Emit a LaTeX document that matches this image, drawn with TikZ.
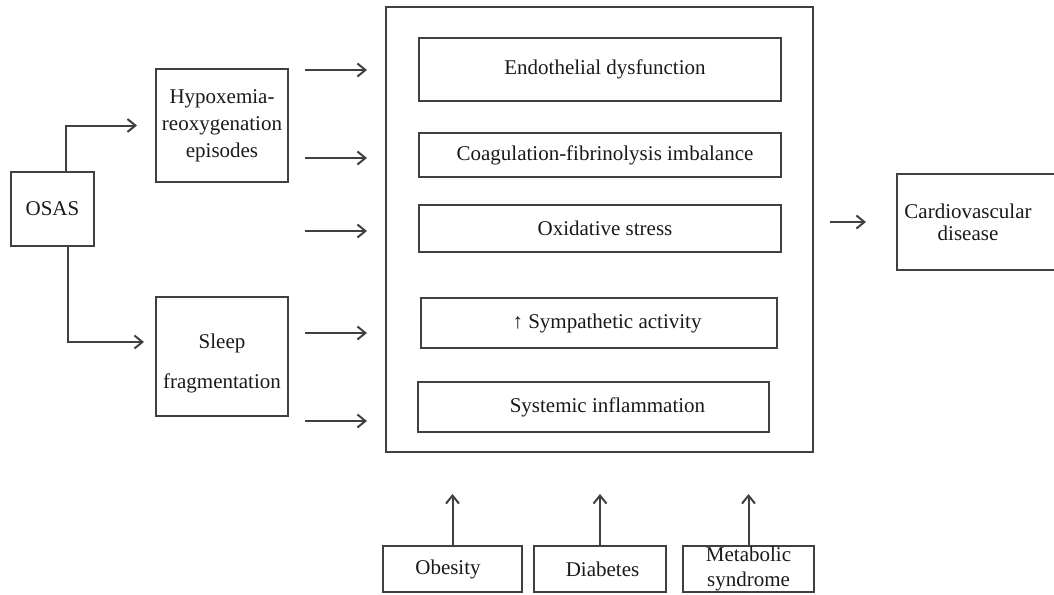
\documentclass[tikz,border=0pt]{standalone}
\usepackage{fontspec}
\setmainfont{Liberation Serif}
\usetikzlibrary{arrows.meta,calc}
\begin{document}
\begin{tikzpicture}[x=1pt,y=-1pt,
  box/.style={draw=black!75, line width=2pt, rectangle, inner sep=0pt, align=center,
    font=\fontsize{21}{27}\selectfont, text=black!90},
  txt/.style={inner sep=0pt, align=center, font=\fontsize{21}{22}\selectfont, text=black!90},
  arr/.style={draw=black!75, line width=2pt, -{Straight Barb[length=8pt,width=13pt]}}
]
\useasboundingbox (0,0) rectangle (1054,594);
\clip (0,0) rectangle (1054,594);

% left column
\node[box, minimum width=83, minimum height=74] (osas) at (52.5,209) {OSAS};
\node[box, minimum width=132, minimum height=113] (hyp) at (222,125.5) {Hypoxemia-\\reoxygenation\\episodes};
\node[box, minimum width=132, minimum height=119] (sleep) at (222,356.5) {\rule{0pt}{28pt}Sleep\\[13pt]fragmentation};

% big box
\node[draw=black!75, line width=2pt, minimum width=427, minimum height=445, inner sep=0pt] (big) at (599.5,229.5) {};
\node[box, minimum width=362, minimum height=63] (endo) at (600,69.5) {\hspace*{10pt}Endothelial dysfunction};
\node[box, minimum width=362, minimum height=44] (coag) at (600,155) {\hspace*{10pt}Coagulation-fibrinolysis imbalance};
\node[box, minimum width=362, minimum height=47] (oxid) at (600,228.5) {\hspace*{10pt}Oxidative stress};
\node[box, minimum width=356, minimum height=50] (symp) at (599,323) {\hspace*{16pt}↑ Sympathetic activity};
\node[box, minimum width=351, minimum height=50] (syst) at (593.5,407) {\hspace*{28pt}Systemic inflammation};

% outcome
\node[box, minimum width=173, minimum height=96] (cvd) at (983.5,222) {};
\node[txt] (cvdtext) at (968,222) {Cardiovascular\\disease};

% bottom factors
\node[box, minimum width=139, minimum height=46] (obes) at (452.5,569) {Obesity\hspace*{9pt}};
\node[box, minimum width=132, minimum height=46] (diab) at (600,569) {\hspace*{5pt}Diabetes};
\node[box, minimum width=131, minimum height=46, font=\fontsize{21}{25}\selectfont] (meta) at (748.5,569) {Metabolic\\syndrome};

% connectors from OSAS
\draw[arr, shorten >=18pt] ([xshift=13.5pt]osas.north) |- (hyp.west);
\draw[arr, shorten >=11pt] ([xshift=15.5pt]osas.south) |- ([yshift=14.5pt]sleep.west);

% arrows into the big box
\foreach \y in {70,158,231,333,421} {
  \draw[arr, shorten <=16pt, shorten >=18pt] (hyp.east |- 0,\y) -- (big.west |- 0,\y);
}

% big box to outcome
\draw[arr, shorten <=16pt, shorten >=30pt] (big.east |- cvd.west) -- (cvd.west);

% bottom arrows
\draw[arr, shorten >=41pt] (obes.north) -- (obes.north |- big.south);
\draw[arr, shorten >=41pt] (diab.north) -- (diab.north |- big.south);
\draw[arr, shorten >=41pt] (meta.north) -- (meta.north |- big.south);
\end{tikzpicture}
\end{document}
